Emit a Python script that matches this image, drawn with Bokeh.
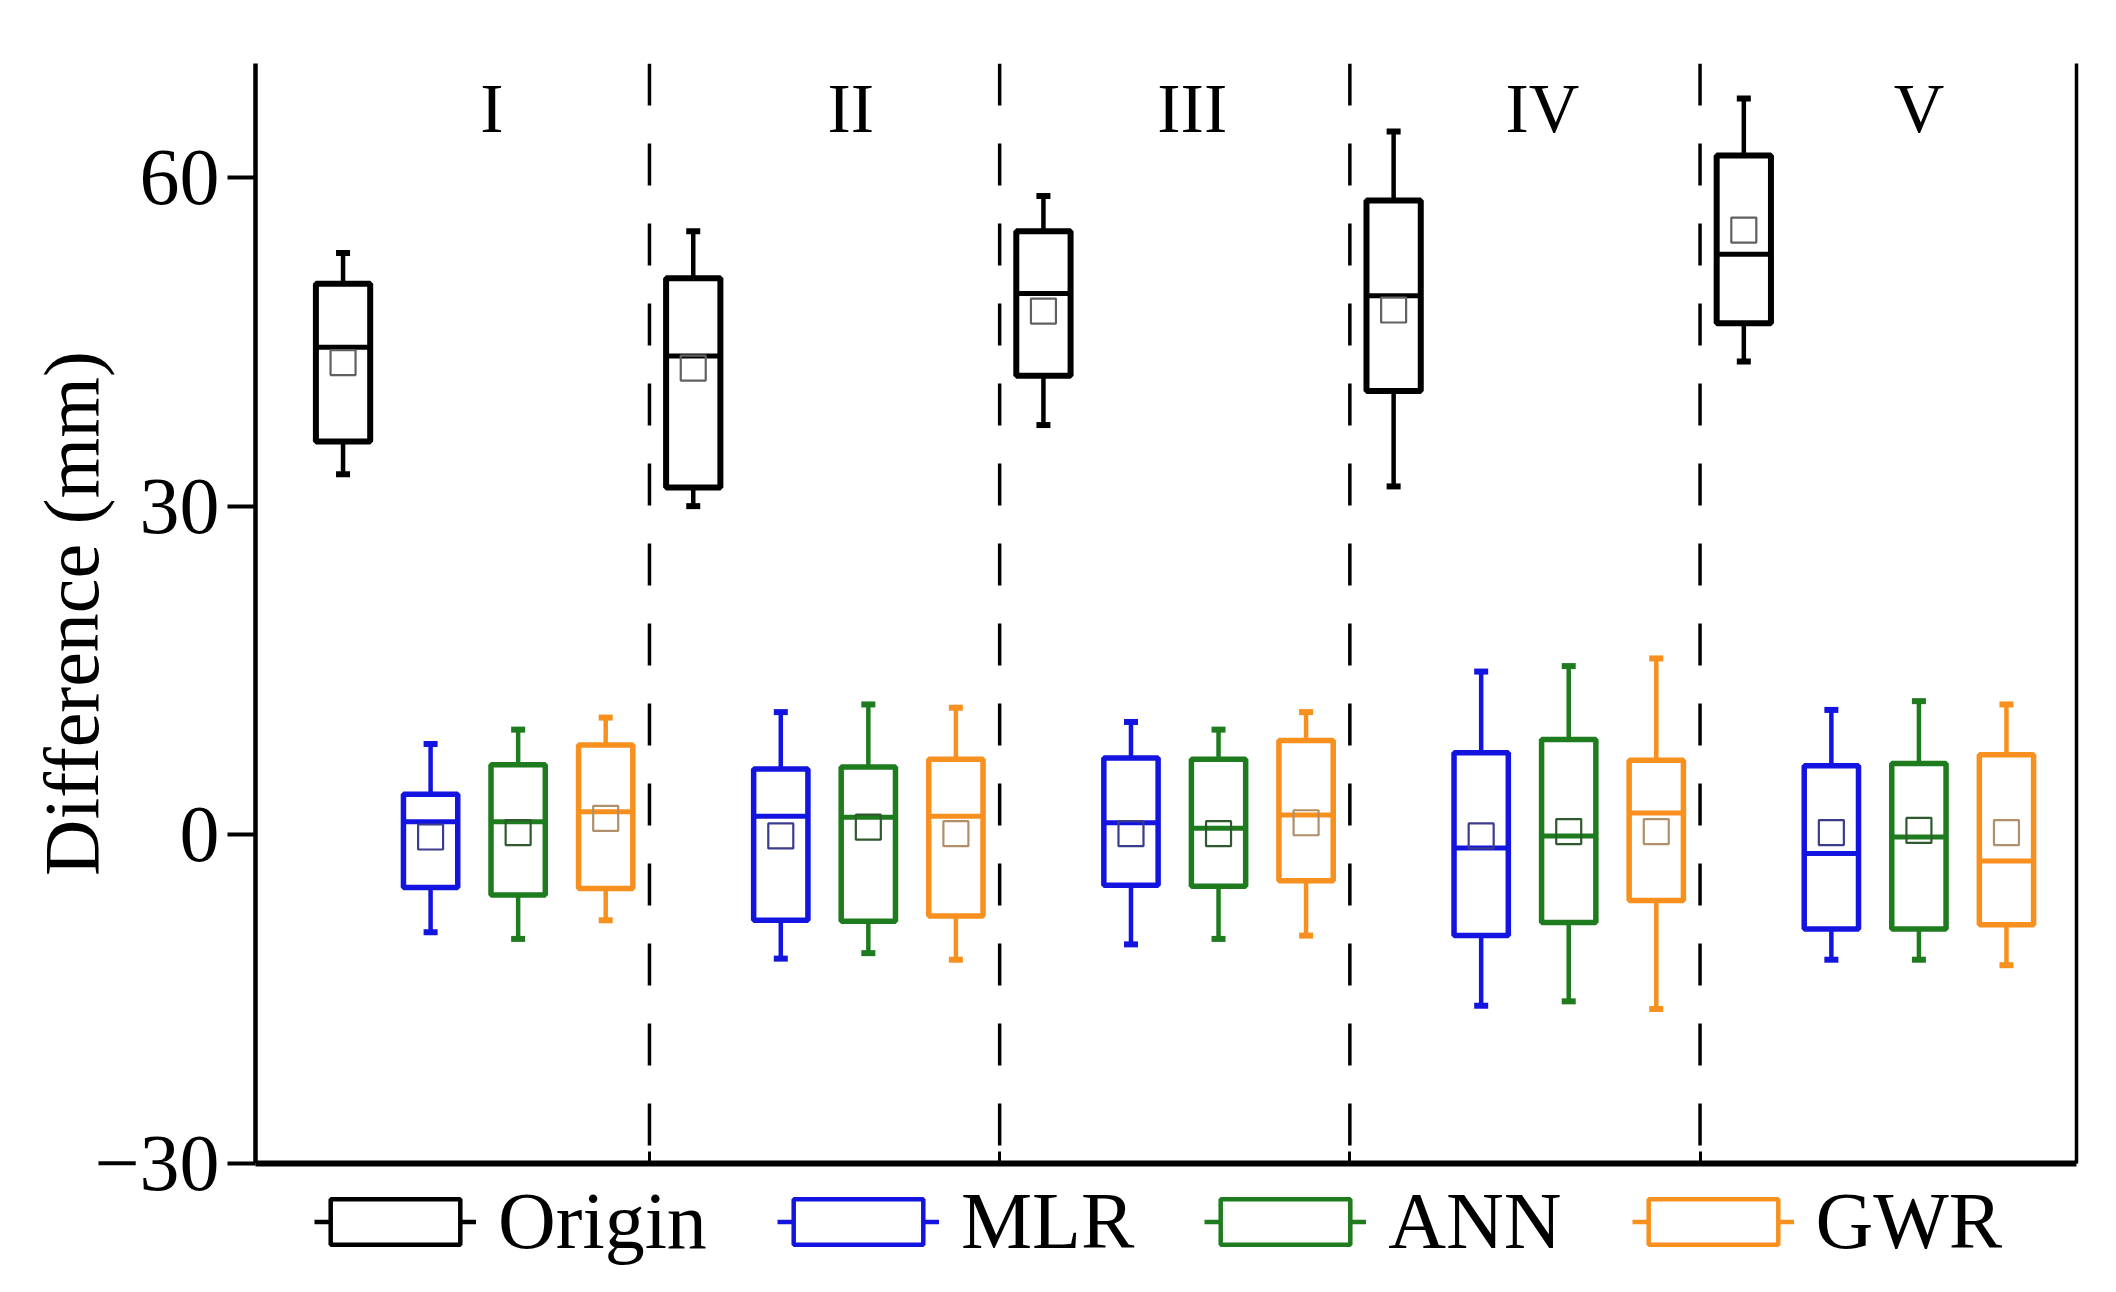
from bokeh.plotting import figure
from bokeh.layouts import column
from bokeh.models import (ColumnDataSource, Span, FixedTicker, LinearAxis, Legend,
                          LegendItem, Range1d)
from bokeh.core.properties import value
from bokeh.embed import file_html
from bokeh.resources import INLINE

groups = ["I", "II", "III", "IV", "V"]
series = ["Origin", "MLR", "ANN", "GWR"]
colors = ["#000000", "#1414e0", "#1e7b1e", "#f7901e"]
mean_colors = ["#606060", "#3c3c8c", "#2f5a2f", "#b0906a"]

# whisker low, Q1, median, mean, Q3, whisker high  (per group I..V)
origin_wlo = [32.9, 30.0, 37.4, 31.8, 43.2]
origin_q1 = [35.9, 31.7, 41.9, 40.5, 46.7]
origin_med = [44.5, 43.7, 49.4, 49.2, 53.0]
origin_mean = [43.1, 42.6, 47.8, 47.9, 55.2]
origin_q3 = [50.3, 50.8, 55.1, 57.9, 62.0]
origin_whi = [53.1, 55.1, 58.3, 64.2, 67.2]

mlr_wlo = [-8.9, -11.3, -10.0, -15.6, -11.4]
mlr_q1 = [-4.8, -7.8, -4.6, -9.2, -8.6]
mlr_med = [1.2, 1.7, 1.1, -1.2, -1.7]
mlr_mean = [-0.2, -0.1, 0.1, -0.1, 0.2]
mlr_q3 = [3.7, 6.0, 7.0, 7.5, 6.3]
mlr_whi = [8.3, 11.2, 10.3, 14.9, 11.4]

ann_wlo = [-9.5, -10.8, -9.5, -15.2, -11.4]
ann_q1 = [-5.5, -7.9, -4.7, -8.0, -8.6]
ann_med = [1.2, 1.6, 0.6, -0.1, -0.2]
ann_mean = [0.2, 0.7, 0.1, 0.3, 0.4]
ann_q3 = [6.4, 6.2, 6.9, 8.7, 6.5]
ann_whi = [9.6, 11.9, 9.6, 15.4, 12.2]

gwr_wlo = [-7.8, -11.4, -9.2, -15.9, -11.9]
gwr_q1 = [-4.9, -7.4, -4.2, -6.0, -8.2]
gwr_med = [2.1, 1.7, 1.8, 2.0, -2.4]
gwr_mean = [1.5, 0.1, 1.1, 0.3, 0.2]
gwr_q3 = [8.2, 6.9, 8.6, 6.8, 7.3]
gwr_whi = [10.7, 11.6, 11.2, 16.1, 11.9]

stats = [
    (origin_wlo, origin_q1, origin_med, origin_mean, origin_q3, origin_whi),
    (mlr_wlo, mlr_q1, mlr_med, mlr_mean, mlr_q3, mlr_whi),
    (ann_wlo, ann_q1, ann_med, ann_mean, ann_q3, ann_whi),
    (gwr_wlo, gwr_q1, gwr_med, gwr_mean, gwr_q3, gwr_whi),
]

tick_values = [-30, 0, 30, 60]
group_label_x = [2.7, 6.8, 10.7, 14.7, 19.0]
group_label_y = 66.3

n_series = len(series)
n_groups = len(groups)
box_w = 0.62
cap_w = 0.16

p = figure(width=2100, height=1209, x_range=Range1d(0, 20.8), y_range=Range1d(-30, 70.4),
           output_backend="svg", toolbar_location=None,
           min_border_left=255, min_border_right=24, min_border_top=63, min_border_bottom=46)
p.grid.visible = False
p.outline_line_color = None
p.background_fill_color = "white"

# legend strip below the chart (transparent, slightly overlapping the chart's bottom margin)
lg = figure(width=2100, height=143, x_range=Range1d(0, 1), y_range=Range1d(0, 1),
            output_backend="svg", toolbar_location=None,
            x_axis_location=None, y_axis_location=None, min_border=0,
            margin=(-60, 0, 0, 0))
lg.grid.visible = False
lg.outline_line_color = None
lg.background_fill_alpha = 0
lg.border_fill_alpha = 0

# separators between groups
seps = [n_series * (g + 1) + 0.5 for g in range(n_groups - 1)]
for s in seps:
    p.add_layout(Span(location=s, dimension="height", line_color="black",
                      line_width=3.5, line_dash="42 38"))

items = []
for si, name in enumerate(series):
    wlo, q1, med, mean, q3, whi = stats[si]
    xs = [n_series * g + si + 1 for g in range(n_groups)]
    src = ColumnDataSource(dict(
        x=xs, wlo=wlo, q1=q1, med=med, mean=mean, q3=q3, whi=whi,
        xl=[x - box_w / 2 for x in xs], xr=[x + box_w / 2 for x in xs],
        cl=[x - cap_w / 2 for x in xs], cr=[x + cap_w / 2 for x in xs],
    ))
    c = colors[si]
    lw_box = 6 if si == 0 else 5.5
    p.segment(x0="x", y0="q3", x1="x", y1="whi", source=src, line_color=c, line_width=4.5)
    p.segment(x0="x", y0="q1", x1="x", y1="wlo", source=src, line_color=c, line_width=4.5)
    p.segment(x0="cl", y0="whi", x1="cr", y1="whi", source=src, line_color=c, line_width=6)
    p.segment(x0="cl", y0="wlo", x1="cr", y1="wlo", source=src, line_color=c, line_width=6)
    p.vbar(x="x", width=box_w, top="q3", bottom="q1", source=src,
           fill_color="white", line_color=c, line_width=lw_box)
    p.segment(x0="xl", y0="med", x1="xr", y1="med", source=src, line_color=c, line_width=5)
    p.scatter(x="x", y="mean", source=src, marker="square", size=25, fill_color=None,
              line_color=mean_colors[si], line_width=2.2)

    # legend-only renderers: one row of NaN, so nothing is drawn in the strip itself
    key_src = ColumnDataSource(dict(x=[float("nan")], y0=[float("nan")], y1=[float("nan")]))
    r_line = lg.segment(x0="x", y0="y0", x1="x", y1="y1", source=key_src,
                        line_color=c, line_width=4.5)
    r_box = lg.vbar(x="x", width=0.1, top="y1", bottom="y0", source=key_src,
                    fill_color="white", line_color=c, line_width=4.5)
    items.append(LegendItem(label=name, renderers=[r_line, r_box]))

p.text(x=group_label_x, y=[group_label_y] * n_groups, text=groups,
       text_font=value("Liberation Serif"), text_font_size="70px",
       text_align="center", text_baseline="middle", text_color="black")

# left axis
ya = p.yaxis[0]
ya.ticker = FixedTicker(ticks=tick_values)
ya.major_label_overrides = {-30: "\u221230"}
ya.axis_label = "Difference (mm)"
ya.axis_label_text_font = "Liberation Serif"
ya.axis_label_text_font_size = "78px"
ya.axis_label_text_font_style = "normal"
ya.axis_label_text_color = "black"
ya.axis_label_standoff = -24
ya.major_label_text_font = "Liberation Serif"
ya.major_label_text_font_size = "80px"
ya.major_label_text_color = "black"
ya.major_label_standoff = 8
ya.major_tick_out = 28
ya.major_tick_in = 0
ya.major_tick_line_width = 4
ya.minor_tick_line_color = None
ya.axis_line_width = 4.5

# bottom axis
xa = p.xaxis[0]
xa.ticker = FixedTicker(ticks=seps)
xa.major_label_text_font_size = "1px"
xa.major_label_text_alpha = 0
xa.major_label_standoff = 0
xa.major_tick_in = 12
xa.major_tick_out = 0
xa.major_tick_line_width = 3
xa.minor_tick_line_color = None
xa.axis_line_width = 6

# right frame line
ra = LinearAxis(ticker=FixedTicker(ticks=[]), major_label_text_font_size="1px",
                major_tick_line_color=None, minor_tick_line_color=None, axis_line_width=3.5)
p.add_layout(ra, "right")

legend = Legend(items=items, orientation="horizontal", location=(59, 25),
                glyph_width=162, glyph_height=57, label_height=57,
                label_text_font="Liberation Serif", label_text_font_size="80px",
                label_text_color="black",
                label_text_baseline="middle", label_standoff=22, spacing=70,
                padding=0, margin=0, border_line_color=None, background_fill_alpha=0)
lg.add_layout(legend)

open("out.html", "w").write(file_html(column(p, lg), INLINE))
